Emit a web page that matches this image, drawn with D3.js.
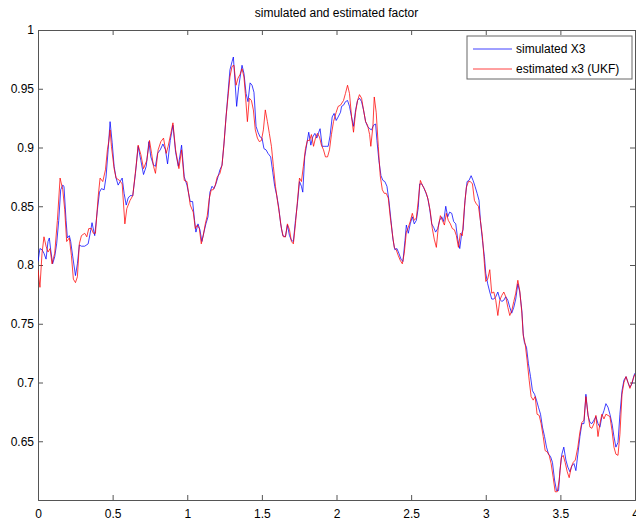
<!DOCTYPE html>
<html>
<head>
<meta charset="utf-8">
<script src="https://cdn.jsdelivr.net/npm/d3@7"></script>
<style>
  body { margin: 0; background: #fff; }
  svg { display: block; font-family: "Liberation Sans", Arial, sans-serif; }
  .axis path, .axis line { stroke: #555; }
  .axis text { fill: #000; font-size: 12px; }
</style>
</head>
<body>
<svg id="chart" width="636" height="527"></svg>
<script>
// simulated X3 (blue)
var simTime = [0.000,0.013,0.027,0.040,0.054,0.067,0.076,0.085,0.098,0.112,0.125,0.139,0.152,0.166,0.174,0.188,0.197,0.210,0.219,0.233,0.251,0.264,0.277,0.291,0.313,0.336,0.354,0.362,0.380,0.398,0.412,0.425,0.443,0.456,0.470,0.483,0.497,0.510,0.523,0.537,0.550,0.564,0.577,0.591,0.604,0.617,0.635,0.653,0.671,0.689,0.707,0.725,0.743,0.756,0.774,0.787,0.801,0.819,0.837,0.854,0.868,0.886,0.904,0.922,0.940,0.962,0.980,0.998,1.020,
  1.036,1.049,1.058,1.072,1.085,1.098,1.112,1.125,1.139,1.152,1.166,1.179,1.192,1.206,1.219,1.233,1.246,1.260,1.273,1.286,1.300,1.309,1.318,1.331,1.345,1.358,1.367,1.380,1.394,1.407,1.421,1.434,1.447,1.461,1.474,1.488,1.501,1.514,1.528,1.541,1.559,1.573,1.586,1.600,1.613,1.626,1.640,1.658,1.671,1.685,1.698,1.711,1.725,1.738,1.752,1.765,1.774,1.787,1.801,1.814,1.828,1.841,1.855,1.868,1.881,1.890,1.904,1.917,1.931,1.944,1.957,1.971,1.984,1.998,2.011,2.027,
  2.034,2.047,2.060,2.074,2.087,2.101,2.114,2.128,2.141,2.154,2.168,2.181,2.195,2.208,2.222,2.235,2.248,2.262,2.271,2.284,2.298,2.311,2.324,2.338,2.351,2.365,2.378,2.391,2.405,2.418,2.432,2.445,2.459,2.468,2.481,2.494,2.508,2.521,2.535,2.548,2.557,2.571,2.584,2.597,2.611,2.624,2.638,2.651,2.664,2.678,2.691,2.705,2.718,2.732,2.745,2.758,2.772,2.785,2.799,2.812,2.826,2.839,2.848,2.861,2.875,2.888,2.902,2.915,2.928,2.942,2.955,2.964,2.978,2.991,3.000,
  3.013,3.027,3.040,3.054,3.067,3.081,3.094,3.107,3.121,3.134,3.148,3.161,3.174,3.188,3.201,3.215,3.228,3.242,3.251,3.259,3.273,3.286,3.300,3.313,3.327,3.340,3.353,3.367,3.380,3.394,3.407,3.421,3.434,3.447,3.461,3.474,3.488,3.497,3.510,3.523,3.537,3.550,3.564,3.577,3.591,3.604,3.617,3.631,3.644,3.658,3.671,3.685,3.698,3.711,3.725,3.738,3.752,3.765,3.778,3.792,3.805,3.819,3.832,3.846,3.859,3.872,3.886,3.899,3.913,3.926,3.940,3.953,3.966,3.980,3.993,4.000];
var simValues = [0.803,0.814,0.813,0.810,0.805,0.820,0.823,0.813,0.801,0.807,0.818,0.838,0.864,0.868,0.867,0.838,0.823,0.825,0.820,0.807,0.791,0.801,0.817,0.816,0.816,0.818,0.830,0.836,0.825,0.847,0.862,0.865,0.864,0.875,0.898,0.922,0.904,0.884,0.874,0.868,0.871,0.874,0.861,0.851,0.857,0.859,0.859,0.878,0.901,0.889,0.877,0.884,0.905,0.892,0.885,0.884,0.895,0.898,0.903,0.898,0.886,0.906,0.919,0.896,0.884,0.902,0.875,0.868,0.854,
  0.854,0.838,0.828,0.835,0.830,0.820,0.828,0.835,0.841,0.862,0.867,0.865,0.869,0.875,0.881,0.885,0.903,0.926,0.946,0.966,0.973,0.977,0.960,0.935,0.952,0.963,0.970,0.963,0.946,0.939,0.955,0.953,0.947,0.918,0.913,0.909,0.908,0.899,0.898,0.895,0.892,0.879,0.867,0.859,0.849,0.835,0.825,0.824,0.834,0.825,0.821,0.820,0.838,0.852,0.871,0.867,0.862,0.892,0.903,0.913,0.902,0.909,0.912,0.908,0.913,0.916,0.901,0.901,0.901,0.901,0.910,0.926,0.929,0.923,0.926,0.930,
  0.935,0.936,0.939,0.940,0.935,0.926,0.918,0.932,0.940,0.942,0.939,0.932,0.922,0.918,0.916,0.915,0.919,0.920,0.906,0.889,0.876,0.872,0.871,0.867,0.855,0.838,0.822,0.813,0.814,0.810,0.805,0.803,0.821,0.834,0.827,0.835,0.841,0.835,0.838,0.849,0.869,0.869,0.866,0.862,0.857,0.848,0.835,0.832,0.828,0.831,0.838,0.841,0.837,0.850,0.841,0.845,0.844,0.837,0.835,0.822,0.814,0.827,0.830,0.855,0.871,0.872,0.876,0.872,0.867,0.861,0.855,0.838,0.821,0.807,0.793,
  0.784,0.777,0.771,0.771,0.773,0.777,0.771,0.769,0.770,0.773,0.770,0.764,0.759,0.764,0.771,0.784,0.777,0.761,0.742,0.734,0.730,0.716,0.705,0.693,0.690,0.685,0.679,0.673,0.662,0.654,0.645,0.639,0.637,0.632,0.617,0.608,0.608,0.625,0.639,0.645,0.634,0.628,0.624,0.629,0.631,0.625,0.639,0.654,0.665,0.665,0.690,0.672,0.666,0.665,0.668,0.671,0.665,0.662,0.671,0.676,0.682,0.679,0.673,0.665,0.654,0.645,0.649,0.673,0.693,0.702,0.705,0.700,0.696,0.699,0.706,0.708];

// estimated x3 (UKF) (red)
var estTime = [0.000,0.013,0.027,0.040,0.054,0.067,0.081,0.094,0.112,0.130,0.148,0.166,0.179,0.192,0.210,0.224,0.237,0.251,0.264,0.277,0.291,0.313,0.327,0.340,0.358,0.371,0.385,0.403,0.416,0.434,0.452,0.465,0.474,0.483,0.492,0.510,0.523,0.546,0.564,0.582,0.595,0.617,0.635,0.658,0.671,0.689,0.707,0.729,0.747,0.761,0.774,0.787,0.805,0.823,0.841,0.859,0.872,0.890,0.904,0.922,0.944,0.962,0.980,0.998,1.020,
  1.040,1.054,1.067,1.081,1.094,1.107,1.121,1.134,1.148,1.161,1.174,1.188,1.201,1.219,1.233,1.246,1.260,1.273,1.286,1.300,1.313,1.327,1.340,1.353,1.367,1.380,1.389,1.403,1.416,1.430,1.443,1.456,1.470,1.483,1.497,1.510,1.523,1.537,1.550,1.564,1.577,1.591,1.604,1.617,1.631,1.644,1.658,1.671,1.685,1.698,1.711,1.725,1.738,1.752,1.765,1.778,1.792,1.805,1.819,1.832,1.846,1.859,1.872,1.886,1.899,1.913,1.926,1.940,1.953,1.966,1.980,1.998,2.011,2.027,
  2.047,2.060,2.074,2.087,2.101,2.114,2.128,2.141,2.154,2.168,2.181,2.195,2.208,2.222,2.230,2.244,2.253,2.266,2.280,2.293,2.307,2.320,2.333,2.347,2.360,2.374,2.387,2.400,2.414,2.427,2.441,2.454,2.468,2.481,2.494,2.508,2.521,2.535,2.548,2.562,2.575,2.588,2.602,2.615,2.629,2.642,2.655,2.669,2.682,2.696,2.709,2.723,2.736,2.749,2.763,2.776,2.790,2.803,2.817,2.830,2.843,2.857,2.870,2.884,2.897,2.911,2.924,2.937,2.951,2.964,2.978,2.991,3.000,
  3.013,3.027,3.040,3.054,3.067,3.081,3.094,3.107,3.121,3.134,3.148,3.161,3.174,3.188,3.201,3.215,3.228,3.242,3.251,3.264,3.277,3.291,3.304,3.318,3.331,3.344,3.358,3.371,3.385,3.398,3.412,3.425,3.438,3.452,3.465,3.479,3.492,3.506,3.519,3.532,3.546,3.559,3.573,3.586,3.600,3.617,3.631,3.644,3.658,3.671,3.685,3.698,3.711,3.725,3.738,3.752,3.765,3.778,3.792,3.805,3.819,3.832,3.846,3.859,3.872,3.886,3.899,3.913,3.926,3.940,3.953,3.966,3.980,3.993,4.000];
var estValues = [0.796,0.781,0.810,0.824,0.816,0.811,0.814,0.801,0.810,0.838,0.874,0.864,0.847,0.820,0.823,0.808,0.788,0.785,0.790,0.818,0.825,0.827,0.824,0.831,0.831,0.827,0.827,0.858,0.874,0.871,0.881,0.898,0.905,0.915,0.901,0.882,0.874,0.872,0.869,0.835,0.848,0.855,0.859,0.885,0.902,0.894,0.882,0.889,0.906,0.895,0.884,0.878,0.898,0.905,0.908,0.895,0.901,0.912,0.921,0.898,0.882,0.898,0.872,0.871,0.851,
  0.845,0.831,0.834,0.831,0.818,0.825,0.835,0.842,0.857,0.864,0.864,0.868,0.875,0.878,0.885,0.903,0.926,0.943,0.960,0.969,0.970,0.953,0.959,0.962,0.967,0.960,0.946,0.922,0.942,0.940,0.932,0.915,0.908,0.905,0.906,0.915,0.932,0.922,0.912,0.901,0.884,0.867,0.855,0.844,0.831,0.824,0.824,0.835,0.830,0.820,0.818,0.835,0.854,0.874,0.871,0.884,0.899,0.906,0.906,0.911,0.901,0.908,0.912,0.909,0.902,0.898,0.892,0.892,0.898,0.911,0.922,0.930,0.935,0.936,
  0.940,0.946,0.953,0.946,0.926,0.913,0.930,0.940,0.945,0.942,0.932,0.922,0.919,0.911,0.901,0.918,0.943,0.930,0.901,0.876,0.864,0.861,0.861,0.857,0.841,0.827,0.815,0.813,0.808,0.804,0.801,0.810,0.828,0.832,0.837,0.844,0.838,0.840,0.855,0.872,0.868,0.865,0.861,0.855,0.845,0.831,0.822,0.815,0.832,0.842,0.838,0.834,0.844,0.838,0.835,0.831,0.830,0.825,0.815,0.827,0.825,0.849,0.866,0.871,0.871,0.869,0.855,0.852,0.850,0.838,0.824,0.801,0.786,
  0.788,0.796,0.776,0.777,0.770,0.757,0.770,0.774,0.777,0.773,0.764,0.757,0.761,0.769,0.776,0.787,0.778,0.759,0.740,0.733,0.719,0.702,0.688,0.685,0.688,0.673,0.672,0.665,0.654,0.642,0.641,0.638,0.631,0.619,0.607,0.607,0.617,0.636,0.638,0.632,0.624,0.619,0.628,0.632,0.634,0.645,0.658,0.666,0.668,0.688,0.673,0.662,0.661,0.665,0.672,0.654,0.665,0.673,0.669,0.673,0.672,0.671,0.659,0.645,0.639,0.638,0.656,0.690,0.700,0.705,0.700,0.695,0.700,0.705,0.707];

var xTicks = [0, 0.5, 1, 1.5, 2, 2.5, 3, 3.5, 4];
var yTicks = [0.65, 0.7, 0.75, 0.8, 0.85, 0.9, 0.95, 1];
var seriesNames = ["simulated X3", "estimated x3 (UKF)"];
var seriesColors = ["#0000ff", "#ff0000"];

var plotLeft = 38, plotRight = 635, plotTop = 30, plotBottom = 500;

var svg = d3.select("#chart");

var xScale = d3.scaleLinear().domain([0, 4]).range([plotLeft, plotRight]);
var yScale = d3.scaleLinear().domain([0.6, 1]).range([plotBottom, plotTop]);

svg.append("text")
  .attr("x", (plotLeft + plotRight) / 2)
  .attr("y", 17)
  .style("text-anchor", "middle")
  .style("font-size", "12px")
  .text("simulated and estimated factor");

// box + ticks (inward, matlab style)
svg.append("g")
  .attr("class", "axis")
  .attr("transform", "translate(0," + plotBottom + ")")
  .call(d3.axisBottom(xScale).tickValues(xTicks).tickSize(-5).tickPadding(9).tickFormat(d3.format("")));

svg.append("g")
  .attr("class", "axis")
  .attr("transform", "translate(0," + plotTop + ")")
  .call(d3.axisTop(xScale).tickValues(xTicks).tickSize(-5).tickFormat(""));

svg.append("g")
  .attr("class", "axis")
  .attr("transform", "translate(" + plotLeft + ",0)")
  .call(d3.axisLeft(yScale).tickValues(yTicks).tickSize(-5).tickPadding(4).tickFormat(d3.format("")));

svg.append("g")
  .attr("class", "axis")
  .attr("transform", "translate(" + plotRight + ",0)")
  .call(d3.axisRight(yScale).tickValues(yTicks).tickSize(-5).tickFormat(""));

svg.append("clipPath").attr("id", "plotclip")
  .append("rect")
  .attr("x", plotLeft).attr("y", plotTop)
  .attr("width", plotRight - plotLeft).attr("height", plotBottom - plotTop);

var line = d3.line()
  .x(d => xScale(d[0]))
  .y(d => yScale(d[1]));

var simData = simTime.map((t, i) => [t, simValues[i]]);
var estData = estTime.map((t, i) => [t, estValues[i]]);

svg.append("path")
  .datum(simData)
  .attr("clip-path", "url(#plotclip)")
  .attr("fill", "none")
  .attr("stroke", seriesColors[0])
  .attr("stroke-width", 0.75)
  .attr("d", line);

svg.append("path")
  .datum(estData)
  .attr("clip-path", "url(#plotclip)")
  .attr("fill", "none")
  .attr("stroke", seriesColors[1])
  .attr("stroke-width", 0.75)
  .attr("d", line);

// legend
var legend = svg.append("g").attr("transform", "translate(467,36)");

legend.append("rect")
  .attr("width", 165)
  .attr("height", 43)
  .attr("fill", "#fff")
  .attr("stroke", "#666")
  .attr("stroke-width", 1);

seriesNames.forEach(function(name, i) {
  var y = 13 + i * 20;
  legend.append("line")
    .attr("x1", 6).attr("x2", 45)
    .attr("y1", y).attr("y2", y)
    .attr("stroke", seriesColors[i])
    .attr("stroke-width", 0.75);
  legend.append("text")
    .attr("x", 49)
    .attr("y", y + 4)
    .style("font-size", "12px")
    .text(name);
});
</script>
</body>
</html>
